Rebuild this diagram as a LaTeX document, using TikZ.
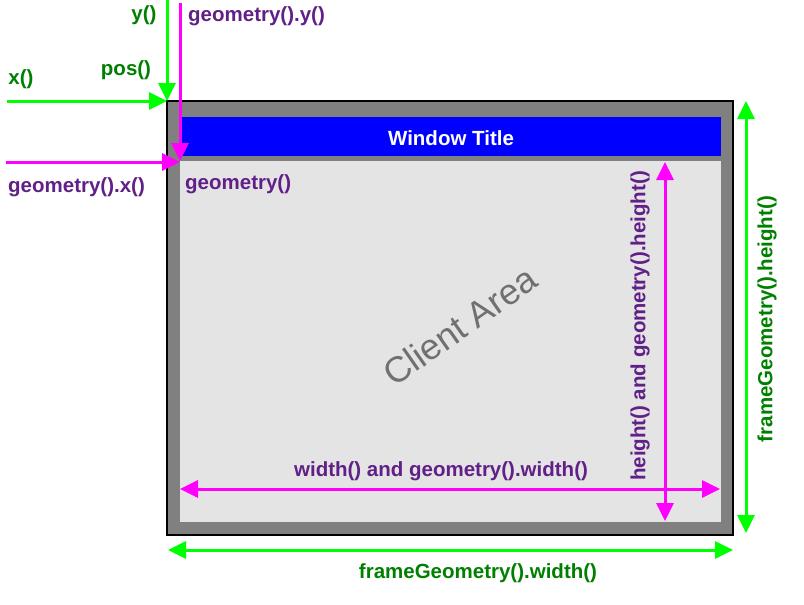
\documentclass[tikz,border=0pt]{standalone}
\usepackage{fontspec}
\setmainfont{Liberation Sans}
\usetikzlibrary{arrows.meta}
\definecolor{arrgreen}{RGB}{0,255,0}
\definecolor{txtgreen}{RGB}{0,128,0}
\definecolor{arrmag}{RGB}{255,0,255}
\definecolor{txtpurple}{RGB}{96,32,136}
\definecolor{framegray}{RGB}{128,128,128}
\definecolor{clientgray}{RGB}{228,228,228}
\definecolor{titleblue}{RGB}{0,0,255}
\definecolor{watermark}{RGB}{112,112,112}
\begin{document}
\begin{tikzpicture}[x=1pt,y=-1pt,
  garrow/.style={draw=arrgreen,line width=3pt,-{Triangle[length=18pt,width=17pt]}},
  gdarrow/.style={draw=arrgreen,line width=3pt,{Triangle[length=18pt,width=17pt]}-{Triangle[length=18pt,width=17pt]}},
  marrow/.style={draw=arrmag,line width=3pt,-{Triangle[length=18pt,width=17pt]}},
  mdarrow/.style={draw=arrmag,line width=3pt,{Triangle[length=18pt,width=17pt]}-{Triangle[length=18pt,width=17pt]}},
  glabel/.style={text=txtgreen,font=\bfseries\fontsize{20.5}{24}\selectfont,inner sep=0pt},
  plabel/.style={text=txtpurple,font=\bfseries\fontsize{20.5}{24}\selectfont,inner sep=0pt}]
\useasboundingbox (0,0) rectangle (804,605);
% frame
\coordinate (frameNW) at (167,101);
\coordinate (frameSE) at (733,535);
\fill[framegray] (frameNW) rectangle (frameSE);
\draw[black,line width=1.5pt] (frameNW) rectangle (frameSE);
% title bar
\coordinate (titleNW) at (181,117);
\coordinate (titleSE) at (721,156);
\fill[titleblue] (titleNW) rectangle (titleSE);
\node[font=\bfseries\fontsize{20.5}{24}\selectfont,text=white,inner sep=0pt,anchor=base] (title) at (451,145) {Window Title};
% client area
\coordinate (clientNW) at (180,161);
\coordinate (clientSE) at (721,522);
\fill[clientgray] (clientNW) rectangle (clientSE);
\node[text=watermark,font=\fontsize{36}{40}\selectfont,rotate=35,inner sep=0pt] (client) at (460,326) {Client Area};
\node[plabel,anchor=base west] (geomlbl) at (185,189) {geometry()};
% top-left arrows
\coordinate (yStart) at (167,0);
\coordinate (xStart) at (7,101);
\draw[garrow] (yStart) -- (frameNW);
\draw[garrow] (xStart) -- (frameNW);
\coordinate (gyStart) at (180,3);
\coordinate (gyEnd) at (180,161);
\coordinate (gxStart) at (6,162);
\coordinate (gxEnd) at (180,162);
\draw[marrow] (gyStart) -- (gyEnd);
\draw[marrow] (gxStart) -- (gxEnd);
\node[glabel,anchor=base] (ylbl) at (144,20) {y()};
\node[plabel,anchor=base west] (gylbl) at (188,21) {geometry().y()};
\node[glabel,anchor=base] (xlbl) at (21,84) {x()};
\node[glabel,anchor=base] (poslbl) at (126,75) {pos()};
\node[plabel,anchor=base west] (gxlbl) at (8,192) {geometry().x()};
% client dimension arrows
\coordinate (wL) at (180,489);
\coordinate (wR) at (720,489);
\draw[mdarrow] (wL) -- (wR);
\node[plabel,anchor=base] (wlbl) at (441,476) {width() and geometry().width()};
\coordinate (hT) at (665,162);
\coordinate (hB) at (665,521);
\draw[mdarrow] (hT) -- (hB);
\node[plabel,rotate=90] (hlbl) at (640,326) {height() and geometry().height()};
% frame dimension arrows
\coordinate (fwL) at (168,550);
\coordinate (fwR) at (733,550);
\draw[gdarrow] (fwL) -- (fwR);
\node[glabel,anchor=base] (fwlbl) at (478,578) {frameGeometry().width()};
\coordinate (fhT) at (746,101);
\coordinate (fhB) at (746,533);
\draw[gdarrow] (fhT) -- (fhB);
\node[glabel,rotate=90] (fhlbl) at (767,319) {frameGeometry().height()};
\end{tikzpicture}
\end{document}
